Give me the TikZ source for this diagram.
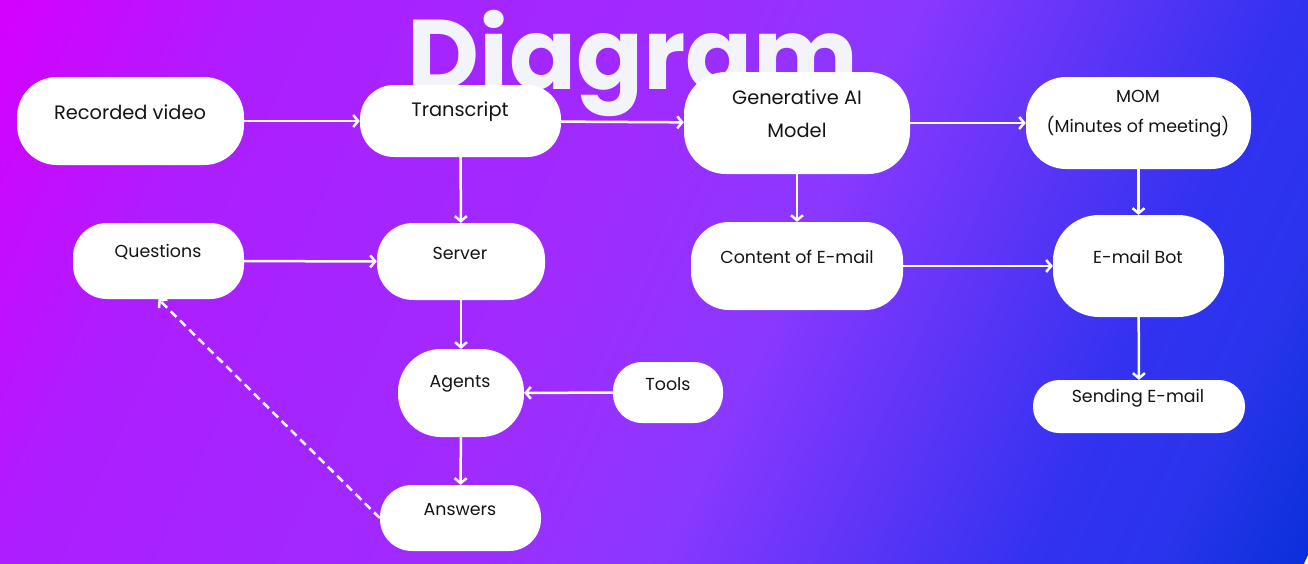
\documentclass[tikz,border=0pt]{standalone}
\usepackage{fontspec}
\setmainfont{Poppins}
\usetikzlibrary{arrows.meta}
\definecolor{c0}{RGB}{214,0,255}
\definecolor{c1}{RGB}{172,30,255}
\definecolor{c2}{RGB}{158,44,255}
\definecolor{c3}{RGB}{138,56,255}
\definecolor{c4}{RGB}{50,50,240}
\definecolor{c5}{RGB}{42,52,236}
\definecolor{c6}{RGB}{10,48,218}
\definecolor{titlecol}{RGB}{243,244,250}
\definecolor{txt}{RGB}{20,20,20}
\pgfdeclarehorizontalshading{bgshade}{100bp}{color(0bp)=(c0); color(25bp)=(c0); color(33.8bp)=(c1); color(47.6bp)=(c2); color(54.3bp)=(c3); color(66.3bp)=(c4); color(70.2bp)=(c5); color(75bp)=(c6); color(100bp)=(c6)}
\begin{document}
\begin{tikzpicture}[x=1pt,y=-1pt,
  box/.style={fill=white, draw=none, inner sep=0pt},
  lbl/.style={font=\fontsize{17.4}{20}\selectfont, text=txt, inner sep=0pt, align=center},
  big/.style={font=\fontsize{19.4}{20}\selectfont},
  arr/.style={draw=white, line width=2.5pt, -{Straight Barb[length=5pt,width=12pt]}},
  darr/.style={arr, dash pattern=on 8pt off 5pt}]
\useasboundingbox (0,0) rectangle (1308,563);
\begin{scope}
\clip (0,0) rectangle (1308,563);
\shade[shading=bgshade, transform canvas={rotate=-25}] (0,-560) rectangle (1420,520);
\end{scope}
% title
\node[font=\fontsize{99}{100}\selectfont\bfseries, text=titlecol, anchor=base, inner sep=0pt] (title) at (633,89) {Diagram};
% boxes
\node[box, rounded corners=40pt, minimum width=227pt, minimum height=88pt] (rv) at (130.5,121) {};
\node[box, rounded corners=34pt, minimum width=201pt, minimum height=72pt] (tr) at (460.5,121) {};
\node[box, rounded corners=42pt, minimum width=226pt, minimum height=102pt] (gen) at (797,123) {};
\node[box, rounded corners=40pt, minimum width=225pt, minimum height=92pt] (mom) at (1138.5,123) {};
\node[box, rounded corners=34pt, minimum width=171pt, minimum height=76pt] (q) at (158.5,261) {};
\node[box, rounded corners=36pt, minimum width=168pt, minimum height=77pt] (srv) at (461,261.5) {};
\node[box, rounded corners=38pt, minimum width=212pt, minimum height=88pt] (cont) at (797,266) {};
\node[box, rounded corners=46pt, minimum width=171pt, minimum height=102pt] (bot) at (1138.5,266) {};
\node[box, rounded corners=43pt, minimum width=126pt, minimum height=88pt] (ag) at (461,393) {};
\node[box, rounded corners=29pt, minimum width=110pt, minimum height=61pt] (tools) at (668,392.5) {};
\node[box, rounded corners=32pt, minimum width=161pt, minimum height=66pt] (ans) at (460.5,518) {};
\node[box, rounded corners=26pt, minimum width=212pt, minimum height=53pt] (send) at (1139,406.5) {};
% labels
\node[lbl, big] (rv-t) at (130,112) {Recorded video};
\node[lbl, big] (tr-t) at (460,112) {Transcript};
\node[lbl, font=\fontsize{19.4}{33}\selectfont] (gen-t) at (797,113.5) {Generative AI\\Model};
\node[lbl, font=\fontsize{17.4}{30}\selectfont] (mom-t) at (1138,114) {MOM\\(Minutes of meeting)};
\node[lbl] (q-t) at (158,252) {Questions};
\node[lbl] (srv-t) at (460,253) {Server};
\node[lbl] (cont-t) at (797,257) {Content of E-mail};
\node[lbl] (bot-t) at (1138,257) {E-mail Bot};
\node[lbl] (ag-t) at (460,384) {Agents};
\node[lbl] (tools-t) at (668,384) {Tools};
\node[lbl] (ans-t) at (460,510) {Answers};
\node[lbl] (send-t) at (1138,398) {Sending E-mail};
% connectors
\draw[arr] (rv) -- (tr);
\draw[arr] (tr) -- (gen);
\draw[arr] (gen) -- (mom);
\draw[arr] (tr) -- (srv);
\draw[arr] (gen) -- (cont);
\draw[arr] (mom) -- (bot);
\draw[arr] (cont) -- (bot);
\draw[arr] (q) -- (srv);
\draw[arr] (srv) -- (ag);
\draw[arr] (tools) -- (ag);
\draw[arr] (ag) -- (ans);
\draw[arr] (bot) -- (send);
\draw[darr] (ans.west) -- (q.south);
\end{tikzpicture}
\end{document}
